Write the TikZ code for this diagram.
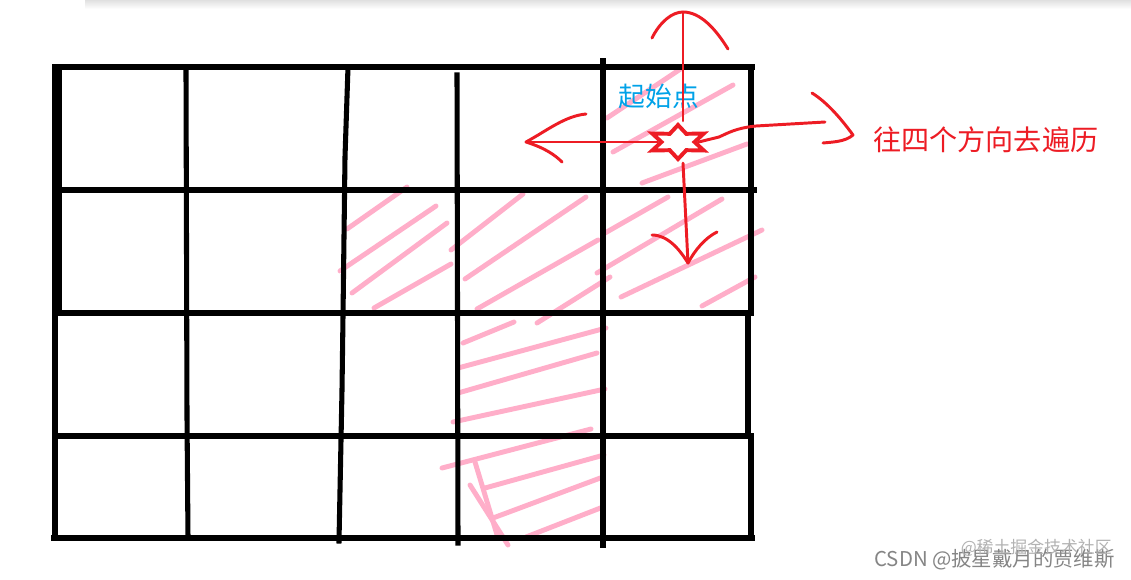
\documentclass[tikz,border=0pt]{standalone}
\usepackage{fontspec}
\newfontfamily\cjk{Noto Sans CJK SC}
\usetikzlibrary{positioning,shapes.geometric}
\definecolor{pinkpen}{RGB}{255,174,201}
\definecolor{penred}{RGB}{237,28,36}
\definecolor{penblue}{RGB}{0,162,232}
\tikzset{
  gridline/.style={line width=3.6pt, black, line cap=rect},
  heavyline/.style={line width=4.6pt, black, line cap=rect},
  hatch/.style={line width=3.5pt, pinkpen, line cap=round},
  redpen/.style={line width=2.1pt, penred, line cap=round, line join=round},
  startstar/.style={star, star points=6, star point ratio=1.8, minimum size=0.85cm, inner sep=0pt, draw=penred, line width=2.8pt, fill=white, xscale=1.75, transform shape},
  lbl/.style={inner sep=0pt, font=\cjk},
  wmark/.style={inner sep=0pt, font=\cjk}
}

\begin{document}
\begin{tikzpicture}[x=0.025cm, y=-0.025cm]
	\useasboundingbox[fill=white] (0,0) rectangle (1131,579);
	\shade[top color=black!12, bottom color=white] (85,0) rectangle (1131,9);

	% pink strokes
	\draw[hatch] (607,118) -- (682,68);
	\draw[hatch] (613,152) -- (733,85);
	\draw[hatch] (642,183) -- (747,144);

	\draw[hatch] (347,229) -- (407,187);
	\draw[hatch] (340,271) -- (436,206);
	\draw[hatch] (352,293) -- (447,223);
	\draw[hatch] (374,308) -- (451,264);

	\draw[hatch] (451,250) -- (523,194);
	\draw[hatch] (465,279) -- (586,197);
	\draw[hatch] (477,309) -- (598,240);
	\draw[hatch] (537,323) -- (610,277);

	\draw[hatch] (605,233) -- (668,197);
	\draw[hatch] (597,273) -- (722,199);
	\draw[hatch] (621,297) -- (762,230);
	\draw[hatch] (702,306) -- (755,277);

	\draw[hatch] (463,343) -- (514,322);
	\draw[hatch] (458,368) -- (606,328);
	\draw[hatch] (458,393) -- (597,353);
	\draw[hatch] (453,422) -- (605,389);

	\draw[hatch] (442,468) -- (591,429);
	\draw[hatch] (475,462) -- (498,538);
	\draw[hatch] (470,485) -- (508,545);
	\draw[hatch] (485,488) -- (604,455);
	\draw[hatch] (493,518) -- (603,477);
	\draw[hatch] (526,537) -- (603,507);

	% the grid
	\draw[gridline] (55,67) -- (752,67);
	\draw[gridline] (57,190) -- (754,190);
	\draw[heavyline] (57,313) -- (751,313);
	\draw[gridline] (55,436) -- (751,436);
	\draw[gridline] (54,538) -- (752,538);

	\draw[line width=6.5pt] (57,66) -- (57,313);
	\draw[gridline] (55,313) -- (55,538);
	\draw[gridline] (186,72) -- (187,417) -- (188,538);
	\draw[gridline] (348,67) -- (345,157) -- (343,316) -- (342,390) -- (339,541);
	\draw[gridline] (457,75) -- (458,543);
	\draw[gridline] (603,61) -- (603,545);
	\draw[heavyline] (751,67) -- (751,313);
	\draw[heavyline] (748,313) -- (748,436);
	\draw[gridline] (751,436) -- (751,538);

	% start point and the four directions
	\coordinate (uptip) at (683,12);
	\coordinate (downtip) at (688,263);
	\coordinate (lefttip) at (526,142);
	\coordinate (rightend) at (825,122);
	\coordinate (righttip) at (853,135);

	\node[startstar] (start) at (678,142) {};
	\node[lbl, text=penblue, font=\cjk\fontsize{19}{19}\selectfont, above=0.28cm of start.north, xshift=-0.48cm] (startlbl) {起始点};

	\draw[redpen] (uptip |- start.north) -- (uptip);
	\draw[redpen] (uptip |- start.south) -- (downtip);
	\draw[redpen] (start.west) -- (lefttip);
	\draw[redpen] (start.east) -- (719,137) .. controls (728,133) and (736,128) .. (756,126) -- (rightend);

	\draw[redpen] (652,38) .. controls (660,22) and (672,12) .. (uptip) .. controls (700,12) and (715,28) .. (728,49);
	\draw[redpen] (652,235) .. controls (668,235) and (680,250) .. (downtip) .. controls (695,250) and (705,238) .. (717,232);
	\draw[redpen] (586,114) .. controls (565,116) and (548,130) .. (lefttip) .. controls (545,148) and (555,155) .. (562,162);
	\draw[redpen] (812,93) .. controls (828,103) and (842,120) .. (righttip) .. controls (845,142) and (832,142) .. (823,143);

	\node[lbl, text=penred, font=\cjk\fontsize{20}{20}\selectfont, right=0.5cm of righttip, yshift=-0.12cm] (dirlbl) {往四个方向去遍历};

	% watermark
	\node[wmark, text=black!48, font=\cjk\fontsize{14.5}{14.5}\selectfont, anchor=east] (csdn) at (1115,560) {CSDN @披星戴月的贾维斯};
	\node[wmark, text=black!30, font=\cjk\fontsize{12}{12}\selectfont, anchor=east] (juejin) at (1112,548) {@稀土掘金技术社区};
\end{tikzpicture}
\end{document}
